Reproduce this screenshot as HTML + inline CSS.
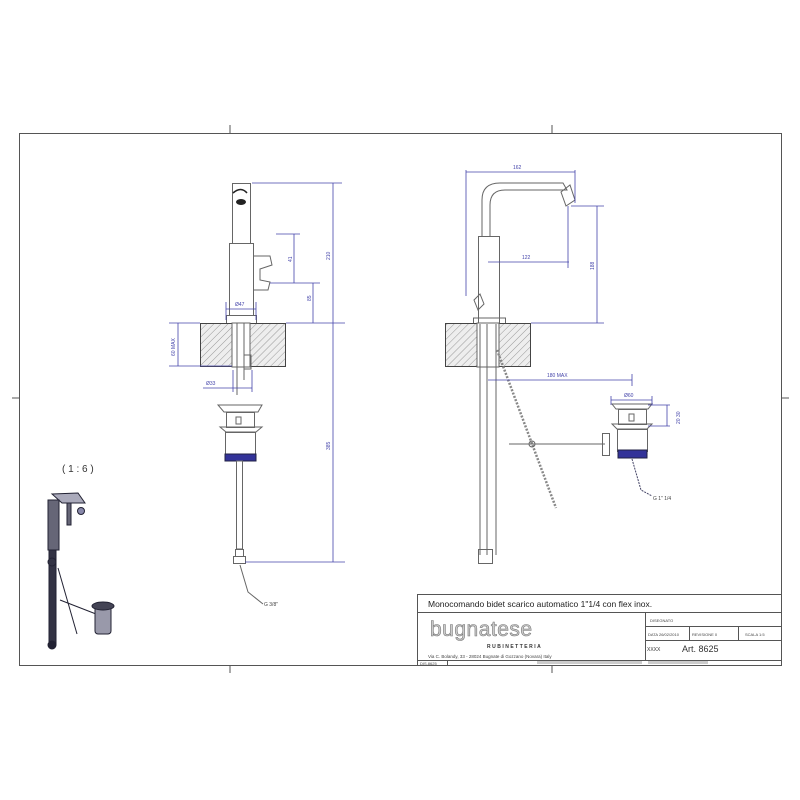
<!DOCTYPE html>
<html><head><meta charset="utf-8"><style>html,body{margin:0;padding:0;background:#fff}svg{display:block}text{font-family:"Liberation Sans",sans-serif}</style></head>
<body>
<svg width="800" height="800" viewBox="0 0 800 800" xmlns="http://www.w3.org/2000/svg">
<defs>
<pattern id="h" width="5" height="5" patternUnits="userSpaceOnUse" patternTransform="rotate(45)"><rect width="5" height="5" fill="#eee"/><line x1="0" y1="0" x2="0" y2="5" stroke="#999" stroke-width="1"/></pattern>
</defs>
<g fill="none" stroke="#555" stroke-width="1">
<rect x="19.5" y="133.5" width="762" height="532"/>
<line x1="230" y1="125" x2="230" y2="133"/><line x1="552" y1="125" x2="552" y2="133"/>
<line x1="230" y1="665" x2="230" y2="673"/><line x1="552" y1="665" x2="552" y2="673"/>
<line x1="12" y1="398" x2="19" y2="398"/><line x1="781" y1="398" x2="789" y2="398"/>
</g>
<g fill="none" stroke="#555" stroke-width="1">
<rect x="417.5" y="594.5" width="364" height="71"/>
<line x1="417" y1="612.5" x2="781" y2="612.5"/>
<line x1="645.5" y1="612" x2="645.5" y2="660"/>
<line x1="645" y1="626.5" x2="781" y2="626.5"/>
<line x1="645" y1="640.5" x2="781" y2="640.5"/>
<line x1="689.5" y1="626" x2="689.5" y2="640"/>
<line x1="738.5" y1="626" x2="738.5" y2="640"/>
<line x1="417" y1="660.5" x2="781" y2="660.5"/>
<line x1="447.5" y1="660" x2="447.5" y2="665"/>
</g>
<text x="428" y="607" font-size="8.5" fill="#222">Monocomando bidet scarico automatico 1"1/4 con flex inox.</text>
<text x="430" y="636" font-size="21" fill="#ccc" stroke="#777" stroke-width="0.6" letter-spacing="0.5">bugnatese</text>
<text x="487" y="648" font-size="5" fill="#333" font-weight="bold" letter-spacing="1.5">RUBINETTERIA</text>
<text x="428" y="658" font-size="4.5" fill="#444">Via C. Bolandy, 33 - 28024 Bugnate di Gozzano (Novara) Italy</text>
<text x="650" y="622" font-size="4" fill="#444">DISEGNATO</text>
<text x="648" y="636" font-size="4" fill="#444">DATA  26/02/2010</text>
<text x="692" y="636" font-size="4" fill="#444">REVISIONE 0</text>
<text x="745" y="636" font-size="4" fill="#444">SCALA  1:5</text>
<text x="647" y="651" font-size="5" fill="#333">XXXX</text>
<text x="682" y="652" font-size="9" fill="#333">Art. 8625</text>
<text x="420" y="665" font-size="4" fill="#444">DIS.8625</text>
<rect x="537" y="661" width="105" height="3" fill="#ccc"/><rect x="648" y="661" width="60" height="3" fill="#ccc"/>

<g fill="none" stroke="#666" stroke-width="1">
<rect x="232.5" y="183.5" width="18" height="60"/>
<rect x="229.5" y="243.5" width="24" height="72"/>
<path d="M253 256 L270 256 L272 265 L260 269 L260 280 L270 282 L268 290 L253 290"/>
<rect x="226.5" y="315.5" width="30" height="8"/>
<rect x="200.5" y="323.5" width="85" height="43" fill="url(#h)" stroke="#444"/>
<rect x="232" y="323" width="18" height="44" fill="#fff" stroke="#666"/>
<line x1="237" y1="323" x2="237" y2="395"/><line x1="244" y1="323" x2="244" y2="380"/>
<rect x="244" y="355" width="7" height="14"/>
<path d="M218 405 L262 405 L258 412 L224 412 Z"/>
<rect x="226.5" y="412.5" width="28" height="15"/><rect x="236" y="417" width="5" height="7"/>
<path d="M220 427 L262 427 L256 432 L226 432 Z"/>
<rect x="225.5" y="432.5" width="30" height="22"/>
<rect x="225" y="454" width="31" height="7" fill="#339" stroke="#224"/>
<rect x="236.5" y="461" width="6" height="88"/>
<rect x="235.5" y="549.5" width="8" height="7"/>
<rect x="233.5" y="556.5" width="12" height="7"/>
<path d="M240 565 L248 592 L263 604"/>
<path d="M233 193 Q241 186 247 193" stroke="#222" stroke-width="1.5"/>
</g>
<ellipse cx="241" cy="202" rx="5" ry="3" fill="#222"/>
<g fill="none" stroke="#44a" stroke-width="0.8">
<line x1="252" y1="183" x2="342" y2="183"/><line x1="333" y1="183" x2="333" y2="562"/>
<line x1="286" y1="323" x2="345" y2="323"/><line x1="245" y1="562" x2="345" y2="562"/>
<line x1="276" y1="234" x2="300" y2="234"/><line x1="294" y1="234" x2="294" y2="283"/>
<line x1="270" y1="283" x2="320" y2="283"/><line x1="313" y1="283" x2="313" y2="323"/>
<line x1="226" y1="302" x2="226" y2="320"/><line x1="256" y1="302" x2="256" y2="320"/><line x1="226" y1="309" x2="256" y2="309"/>
<line x1="169" y1="323" x2="200" y2="323"/><line x1="169" y1="366" x2="232" y2="366"/><line x1="178" y1="323" x2="178" y2="366"/>
<line x1="233" y1="370" x2="233" y2="392"/><line x1="252" y1="370" x2="252" y2="392"/><line x1="203" y1="388" x2="252" y2="388"/>
</g>
<g font-size="5" fill="#44a">
<text x="330" y="260" transform="rotate(-90 330 260)">210</text>
<text x="292" y="262" transform="rotate(-90 292 262)">41</text>
<text x="311" y="301" transform="rotate(-90 311 301)">85</text>
<text x="235" y="306">Ø47</text>
<text x="175" y="356" transform="rotate(-90 175 356)">60 MAX</text>
<text x="206" y="385">Ø33</text>
<text x="330" y="450" transform="rotate(-90 330 450)">385</text>
<text x="264" y="606" fill="#444">G 3/8"</text>
</g>

<g fill="none" stroke="#666" stroke-width="1">
<rect x="478.5" y="236.5" width="21" height="88"/>
<path d="M482 236 L482 200 Q482 183 500 183 L563 183 L567 190 L505 190 Q490 190 490 205 L490 236"/>
<path d="M561 192 L570 185 L575 200 L566 206 Z"/>
<path d="M474 300 L480 294 L484 304 L478 310 Z"/>
<rect x="473.5" y="318" width="32" height="6"/>
<rect x="445.5" y="323.5" width="85" height="43" fill="url(#h)" stroke="#444"/>
<rect x="477" y="323" width="22" height="44" fill="#fff"/>
<line x1="480" y1="324" x2="480" y2="555"/><line x1="487" y1="324" x2="487" y2="555"/><line x1="496" y1="324" x2="496" y2="555"/>
<rect x="478.5" y="549.5" width="14" height="14"/>
<path d="M497 350 L556 508" stroke="#888" stroke-width="2.5" stroke-dasharray="2 1.5"/>
<line x1="509" y1="444" x2="605" y2="444"/>
<circle cx="532" cy="444" r="3"/>
<rect x="602.5" y="433.5" width="7" height="22"/>
<path d="M612 404 L652 404 L648 409 L616 409 Z"/>
<rect x="618.5" y="409.5" width="28" height="15"/><rect x="629" y="414" width="5" height="7"/>
<path d="M612 424 L652 424 L647 429 L617 429 Z"/>
<rect x="617.5" y="429.5" width="30" height="22"/>
<rect x="618" y="450" width="29" height="8" fill="#339" stroke="#224"/>
<path d="M632 459 L641 490 L652 496" stroke="#446" stroke-dasharray="2 1"/>
</g>
<g fill="none" stroke="#44a" stroke-width="0.8">
<line x1="466" y1="170" x2="466" y2="296"/><line x1="575" y1="170" x2="575" y2="203"/><line x1="466" y1="172" x2="575" y2="172"/>
<line x1="571" y1="206" x2="604" y2="206"/><line x1="597" y1="206" x2="597" y2="323"/><line x1="531" y1="323" x2="604" y2="323"/>
<line x1="488" y1="262" x2="569" y2="262"/><line x1="568" y1="206" x2="568" y2="268"/>
<line x1="488" y1="380" x2="632" y2="380"/><line x1="632" y1="374" x2="632" y2="386"/>
<line x1="611" y1="396" x2="611" y2="405"/><line x1="652" y1="396" x2="652" y2="405"/><line x1="611" y1="400" x2="652" y2="400"/>
<line x1="648" y1="405" x2="670" y2="405"/><line x1="648" y1="426" x2="670" y2="426"/><line x1="667" y1="405" x2="667" y2="426"/>
</g>
<g font-size="5" fill="#44a">
<text x="513" y="169">162</text><text x="522" y="259">122</text>
<text x="594" y="270" transform="rotate(-90 594 270)">188</text>
<text x="547" y="377">180 MAX</text><text x="624" y="397">Ø60</text>
<text x="680" y="424" transform="rotate(-90 680 424)">20 30</text>
<text x="653" y="500" fill="#444">G 1" 1/4</text>
</g>

<text x="62" y="472" font-size="10" fill="#333">( 1 : 6 )</text>
<g stroke="#223" fill="#667">
<path d="M52 494 L78 493 L85 503 L62 503 Z" fill="#aab"/>
<rect x="48" y="500" width="11" height="50"/>
<rect x="67" y="503" width="4" height="22"/>
<circle cx="81" cy="511" r="3.5" fill="#88a"/>
<rect x="49" y="550" width="7" height="95" fill="#334"/>
<circle cx="52" cy="562" r="4" fill="#334"/>
<circle cx="52" cy="645" r="4" fill="#223"/>
<line x1="58" y1="568" x2="77" y2="634" fill="none"/>
<line x1="60" y1="600" x2="96" y2="614" fill="none"/>
<rect x="95" y="606" width="16" height="28" rx="3" fill="#99a"/>
<ellipse cx="103" cy="606" rx="11" ry="4" fill="#445"/>
</g>
</svg>
</body></html>
